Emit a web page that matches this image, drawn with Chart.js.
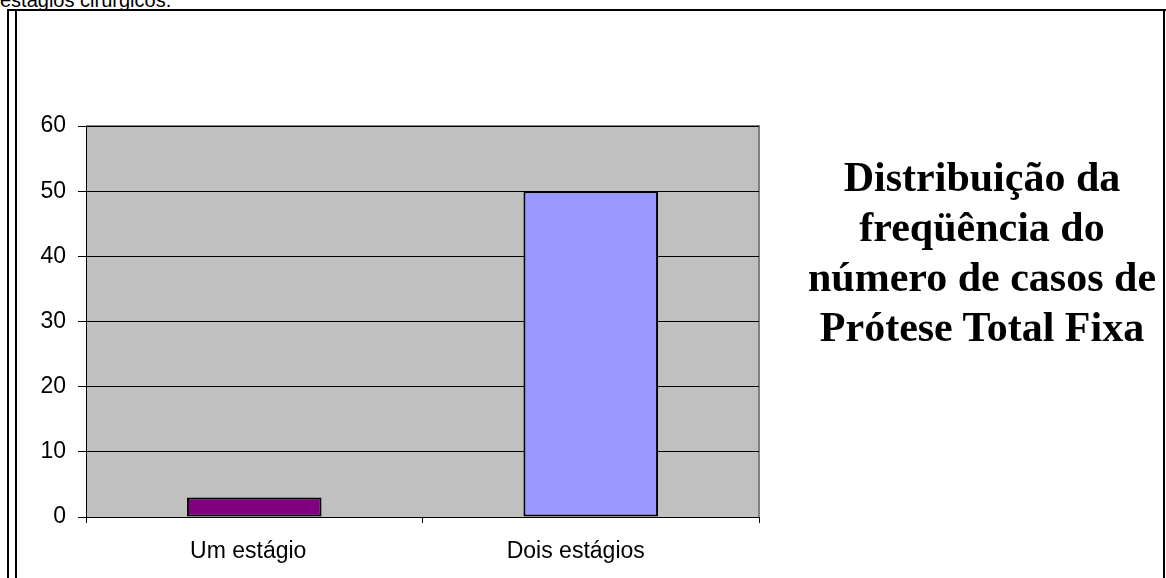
<!DOCTYPE html>
<html>
<head>
<meta charset="utf-8">
<script src="https://cdn.jsdelivr.net/npm/chart.js@4"></script>
<style>
  html, body { margin:0; padding:0; background:#fff; width:1166px; height:578px; overflow:hidden; }
  #wrap { position:relative; width:1166px; height:578px; }
  canvas { position:absolute; left:0; top:0; }
  .ln { position:absolute; background:#000; }
  #cap { position:absolute; left:0px; top:-10px; font:20px "Liberation Sans", Arial, sans-serif; line-height:20px; white-space:nowrap; color:#000; }
  #title { position:absolute; left:782px; width:400px; top:152px; text-align:center;
           font:bold 42px "Liberation Serif", "Times New Roman", serif; line-height:50px; color:#000; }
</style>
</head>
<body>
<div id="wrap">
  <div id="cap">estágios cirúrgicos.</div>
  <div class="ln" style="left:7px; top:9px; width:1159px; height:2px;"></div>
  <div class="ln" style="left:7px; top:9px; width:2px; height:569px;"></div>
  <div class="ln" style="left:15px; top:9px; width:2px; height:569px;"></div>
  <div class="ln" style="left:1163px; top:9px; width:2px; height:569px;"></div>
  <canvas id="c" width="1166" height="578"></canvas>
  <div id="title">Distribuição da<br>freqüência do<br>número de casos de<br>Prótese Total Fixa</div>
</div>
<script>
const categories = ["Um estágio", "Dois estágios"];
const values = [3, 50];
const barColors = ["#800080", "#9999FF"];
const yTicks = [0, 10, 20, 30, 40, 50, 60];
const labelShift = [-6, -15];

const plotBg = {
  id: 'plotBg',
  beforeDraw(chart) {
    const a = chart.chartArea, ctx = chart.ctx;
    ctx.save();
    ctx.fillStyle = '#C0C0C0';
    ctx.fillRect(a.left, a.top, a.right - a.left, a.bottom - a.top);
    ctx.strokeStyle = '#808080';
    ctx.lineWidth = 2;
    ctx.beginPath();
    ctx.moveTo(a.left, a.top);
    ctx.lineTo(a.right, a.top);
    ctx.lineTo(a.right, a.bottom);
    ctx.stroke();
    ctx.restore();
    const items = chart.scales.x.getLabelItems();
    items.forEach((it, i) => {
      if (!it._shifted) { it.options.translation[0] += (labelShift[i] || 0); it._shifted = true; }
    });
  }
};

const font = { family: '"Liberation Sans", Arial, sans-serif', size: 23 };

new Chart(document.getElementById('c'), {
  type: 'bar',
  data: {
    labels: categories,
    datasets: [{
      data: values,
      backgroundColor: barColors,
      borderColor: '#000',
      borderWidth: 2,
      borderSkipped: false,
      barPercentage: 0.8,
      categoryPercentage: 0.5
    }]
  },
  options: {
    responsive: false,
    animation: false,
    devicePixelRatio: 1,
    layout: { padding: { top: 126, right: 407, left: 0, bottom: 0 } },
    plugins: { legend: { display: false }, tooltip: { enabled: false }, title: { display: false } },
    scales: {
      x: {
        grid: { display: true, drawOnChartArea: false, color: '#000', tickLength: 6, offset: true },
        border: { color: '#000', width: 1 },
        ticks: { color: '#000', font: font, padding: 15, maxRotation: 0 },
        afterFit(s) { s.height = 61; }
      },
      y: {
        min: 0, max: 60,
        afterBuildTicks(s) { s.ticks = yTicks.map(v => ({ value: v })); },
        grid: { color: '#000', tickLength: 8 },
        border: { color: '#000', width: 1 },
        ticks: { color: '#000', font: font, padding: 12 },
        afterFit(s) { s.width = 86; }
      }
    }
  },
  plugins: [plotBg]
});
</script>
</body>
</html>
